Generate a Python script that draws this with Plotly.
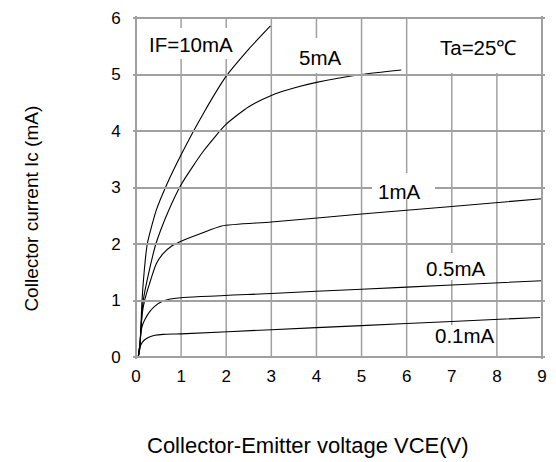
import plotly.graph_objects as go

# Data
x_10 = [0.05, 0.09, 0.11, 0.13, 0.18, 0.25, 0.45, 0.68, 1.0, 1.5, 2.0, 2.5, 2.98]
y_10 = [0.0, 0.25, 0.55, 0.95, 1.5, 2.0, 2.6, 3.05, 3.58, 4.32, 4.97, 5.45, 5.86]

x_5 = [0.05, 0.09, 0.11, 0.13, 0.16, 0.3, 0.44, 0.7, 1.0, 1.5, 2.0, 2.5, 3.0, 3.5, 4.0, 5.0, 5.88]
y_5 = [0.0, 0.25, 0.5, 0.75, 1.0, 1.55, 2.0, 2.55, 3.05, 3.65, 4.12, 4.43, 4.63, 4.76, 4.86, 5.0, 5.08]

x_1 = [0.05, 0.09, 0.11, 0.14, 0.19, 0.3, 0.45, 0.6, 0.8, 1.0, 1.45, 1.9, 3.0, 5.0, 7.0, 9.0]
y_1 = [0.0, 0.25, 0.5, 0.78, 1.0, 1.3, 1.65, 1.83, 1.97, 2.05, 2.19, 2.32, 2.39, 2.53, 2.665, 2.80]

x_05 = [0.05, 0.09, 0.11, 0.15, 0.2, 0.3, 0.42, 0.6, 0.8, 1.0, 3.0, 5.0, 7.0, 9.0]
y_05 = [0.0, 0.2, 0.45, 0.58, 0.67, 0.8, 0.9, 0.99, 1.03, 1.05, 1.125, 1.2, 1.275, 1.35]

x_01 = [0.05, 0.08, 0.1, 0.14, 0.2, 0.31, 0.42, 0.6, 1.0, 3.0, 5.0, 7.0, 8.96]
y_01 = [0.0, 0.12, 0.2, 0.26, 0.31, 0.36, 0.385, 0.40, 0.41, 0.483, 0.556, 0.629, 0.70]

series = [(x_10, y_10), (x_5, y_5), (x_1, y_1), (x_05, y_05), (x_01, y_01)]

x_ticks = [0, 1, 2, 3, 4, 5, 6, 7, 8, 9]
y_ticks = [0, 1, 2, 3, 4, 5, 6]

labels = ["IF=10mA", "5mA", "Ta=25\u2103", "1mA", "0.5mA", "0.1mA"]
label_x = [1.23, 4.08, 7.58, 5.82, 7.09, 7.29]
label_y = [5.53, 5.30, 5.47, 2.93, 1.56, 0.386]
# white label backgrounds that hide the grid: centre x, centre y, width px, height px
box_cx = [1.1, 4.05, 7.51, 5.93, 7.025, 7.2]
box_cy = [5.55, 5.34, 5.5, 3.02, 1.605, 0.295]
box_w = [96, 50, 133, 63, 75, 64]
box_h = [31, 35, 54, 26, 27, 31]

FONT = "Liberation Sans, Arial, sans-serif"
GRID = "#a0a0a0"

W, H = 556, 462
ml, mr, mt, mb = 136, 9, 15, 105
pw, ph = W - ml - mr, H - mt - mb

xmin, xmax = x_ticks[0], x_ticks[-1]
ymin, ymax = y_ticks[0], y_ticks[-1]
xmid, ymid = (xmin + xmax) / 2, (ymin + ymax) / 2

fig = go.Figure()

# inner vertical grid lines from the x tick values (thin filled bands)
for v in x_ticks[1:-1]:
    fig.add_shape(type="rect", xref="x", yref="y", xsizemode="pixel", xanchor=v,
                  x0=-0.75, x1=0.75, y0=ymin, y1=ymax,
                  fillcolor=GRID, line=dict(width=0), layer="below")

for xs, ys in series:
    fig.add_trace(go.Scatter(x=xs, y=ys, mode="lines",
                             line=dict(color="black", width=1.1, shape="spline", smoothing=0.6),
                             showlegend=False, hoverinfo="skip"))

# horizontal grid lines and frame drawn as thin grey annotation boxes
for v in y_ticks:
    fig.add_annotation(x=xmid, y=v, xref="x", yref="y", text=" ", showarrow=False,
                       width=pw + 1, height=1.5, bgcolor=GRID, borderpad=0, borderwidth=0,
                       xanchor="center", yanchor="middle", font=dict(size=1))
for v in (xmin, xmax):
    fig.add_annotation(x=v, y=ymid, xref="x", yref="y", text=" ", showarrow=False,
                       width=1.5, height=ph + 1, bgcolor=GRID, borderpad=0, borderwidth=0,
                       xanchor="center", yanchor="middle", font=dict(size=1))

for cx, cy, bw, bh in zip(box_cx, box_cy, box_w, box_h):
    fig.add_annotation(x=cx, y=cy, xref="x", yref="y", text=" ", showarrow=False,
                       width=bw, height=bh, bgcolor="white", borderpad=0, borderwidth=0,
                       xanchor="center", yanchor="middle", font=dict(size=2))

for t, lx, ly in zip(labels, label_x, label_y):
    fig.add_annotation(x=lx, y=ly, xref="x", yref="y", text=t, showarrow=False,
                       font=dict(family=FONT, size=20.5, color="black"),
                       xanchor="center", yanchor="middle")

fig.add_annotation(xref="paper", yref="paper", x=(310 - ml) / pw, y=(H - mb - 446) / ph,
                   text="Collector-Emitter voltage VCE(V)", showarrow=False,
                   font=dict(family=FONT, size=22, color="black"),
                   xanchor="center", yanchor="middle")
fig.add_annotation(xref="paper", yref="paper", x=(30 - ml) / pw, y=(H - mb - 207) / ph,
                   text="Collector current Ic (mA)", showarrow=False, textangle=-90,
                   font=dict(family=FONT, size=19, color="black"),
                   xanchor="center", yanchor="middle")

fig.update_xaxes(range=[xmin, xmax], tickvals=x_ticks, ticktext=[str(v) for v in x_ticks],
                 showgrid=False, zeroline=False, showline=False,
                 ticks="outside", ticklen=4, tickcolor="rgba(0,0,0,0)",
                 tickfont=dict(family=FONT, size=17, color="black"))
fig.update_yaxes(range=[ymin, ymax], tickvals=y_ticks, ticktext=[str(v) for v in y_ticks],
                 showgrid=False, zeroline=False, showline=False,
                 ticks="outside", ticklen=11, tickcolor="rgba(0,0,0,0)",
                 tickfont=dict(family=FONT, size=17, color="black"))

fig.update_layout(width=W, height=H, margin=dict(l=ml, r=mr, t=mt, b=mb),
                  paper_bgcolor="white", plot_bgcolor="rgba(0,0,0,0)")

fig.write_html("out.html")
